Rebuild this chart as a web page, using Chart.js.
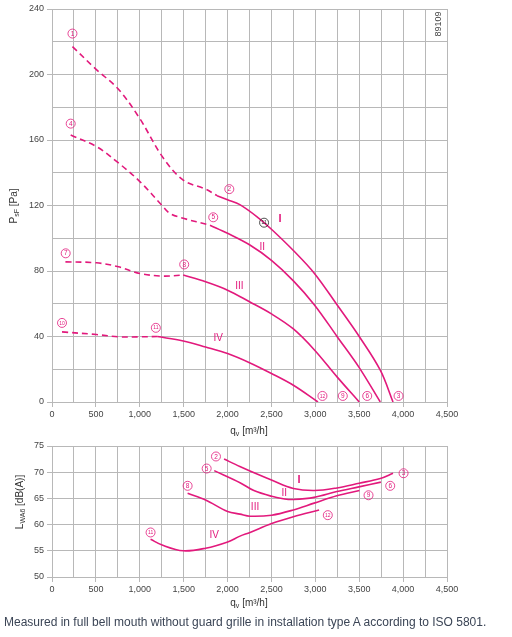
<!DOCTYPE html>
<html>
<head>
<meta charset="UTF-8" />
<script src="https://cdn.jsdelivr.net/npm/chart.js"></script>
<style>
  body, html { margin: 0; padding: 0; background: #fff; }
  #top { position: absolute; left: 0; top: 0; }
  #bottom { position: absolute; left: 0; top: 430px; }
  #note {
    position: absolute; left: 4px; top: 615px;
    font: 12px "Liberation Sans", Arial, sans-serif; line-height: 14px;
    color: #3b4556; white-space: nowrap;
  }
</style>
</head>
<body>
<canvas id="top" width="512" height="440"></canvas>
<canvas id="bottom" width="512" height="185"></canvas>
<div id="note">Measured in full bell mouth without guard grille in installation type A according to ISO 5801.</div>
<script>
// --- pressure curves, q_v [m³/h] vs p_sF [Pa] ---
const q1Dash = [233, 506, 757, 1001, 1255, 1495, 1750, 1880];
const p1Dash = [217, 203, 191, 173, 150, 135.5, 130, 126];
const qI = [1880, 2000, 2140, 2350, 2500, 2750, 2990, 3245, 3500, 3740, 3885];
const pI = [126, 123.5, 120.5, 112.5, 105.5, 92.5, 78.5, 59.5, 40, 19.4, 0];

const q4Dash = [213, 506, 757, 1001, 1255, 1343, 1495, 1800];
const p4Dash = [163, 156, 146, 134.6, 120, 115.2, 112.2, 108];
const qII = [1800, 2000, 2250, 2500, 2750, 2990, 3245, 3500, 3740];
const pII = [108, 103, 96, 86.5, 74, 59.3, 40.2, 21, 0];

const q7Dash = [153, 506, 757, 1001, 1255, 1495];
const p7Dash = [85.6, 85, 82.6, 78.5, 76.9, 77.5];
const qIII = [1495, 1750, 2000, 2250, 2500, 2750, 2990, 3245, 3500];
const pIII = [77.5, 73.4, 68.3, 61.2, 53.8, 44.6, 31.8, 15.5, 0];

const q10Dash = [114, 506, 757, 1001, 1200];
const p10Dash = [42.8, 41.2, 39.8, 39.8, 40];
const qIV = [1200, 1495, 1750, 2000, 2250, 2500, 2750, 3030];
const pIV = [40, 37.3, 33.6, 29.6, 24, 17.4, 10.2, 0];

// --- sound power level, q_v [m³/h] vs L_WA6 [dB(A)] ---
const qLI = [1960, 2140, 2370, 2500, 2750, 2990, 3245, 3500, 3740, 3885];
const lI = [72.5, 71.1, 69.4, 68.5, 66.9, 66.5, 67.0, 67.9, 68.8, 69.8];
const qLII = [1848, 2142, 2300, 2503, 2650, 2750, 2986, 3245, 3496, 3747];
const lII = [70.3, 68.0, 66.5, 65.4, 64.9, 64.8, 65.2, 66.3, 67.2, 68.1];
const qLIII = [1545, 1750, 2001, 2142, 2256, 2503, 2750, 2986, 3245, 3503];
const lIII = [66, 64.7, 62.5, 62.0, 61.6, 61.8, 62.8, 64.1, 65.5, 66.5];
const qLIV = [1123, 1255, 1495, 1750, 2001, 2142, 2256, 2503, 2750, 3043];
const lIV = [57.2, 56.1, 55.0, 55.5, 56.7, 57.8, 58.5, 60.2, 61.5, 62.8];

// operating point markers (number, q, value)
const topMarks = [
  ['1', 233, 225], ['4', 213, 170], ['2', 2020, 130], ['5', 1837, 112.8],
  ['7', 156, 90.8], ['8', 1506, 84], ['10', 114, 48.3], ['11', 1183, 45.3],
  ['12', 3081, 3.7], ['9', 3313, 3.7], ['6', 3591, 3.7], ['3', 3948, 3.7]
];
const topBlackMark = ['11', 2416, 109.5];
const topRoman = [['I', 2598, 111.7], ['II', 2396, 94.8], ['III', 2134, 70.8], ['IV', 1894, 39.1]];
const lowMarks = [
  ['2', 1868, 73], ['5', 1762, 70.7], ['8', 1545, 67.4], ['11', 1123, 58.5],
  ['3', 4005, 69.8], ['6', 3853, 67.4], ['9', 3606, 65.6], ['12', 3142, 61.8]
];
const lowRoman = [['I', 2815, 68.5], ['II', 2647, 66.0], ['III', 2313, 63.3], ['IV', 1848, 57.9]];

const PINK = '#e2197c';
const GRID = '#b8b8b8';
const FONT = '"Liberation Sans", Arial, sans-serif';

const pts = (xs, ys) => xs.map((x, i) => ({ x, y: ys[i] }));
const curve = (xs, ys, dashed) => ({
  data: pts(xs, ys),
  showLine: true,
  borderColor: PINK,
  borderWidth: 1.6,
  borderDash: dashed ? [6, 4] : [],
  pointRadius: 0,
  tension: 0.35,
  fill: false
});

// text with subscript parts, e.g. [['P'], ['sF', 'sub'], [' [Pa]']]
function drawRich(ctx, parts, cx, cy, rot) {
  ctx.save();
  ctx.translate(cx, cy);
  if (rot) ctx.rotate(rot);
  const big = '10px ' + FONT, small = '7px ' + FONT;
  let w = 0;
  parts.forEach(p => { ctx.font = p[1] ? small : big; w += ctx.measureText(p[0]).width; });
  let x = -w / 2;
  ctx.fillStyle = '#333';
  ctx.textBaseline = 'middle';
  ctx.textAlign = 'left';
  parts.forEach(p => {
    ctx.font = p[1] ? small : big;
    ctx.fillText(p[0], x, p[1] === 'sub' ? 3 : 0);
    x += ctx.measureText(p[0]).width;
  });
  ctx.restore();
}

function circled(ctx, txt, px, py, color) {
  ctx.save();
  ctx.strokeStyle = color;
  ctx.fillStyle = color;
  ctx.lineWidth = 0.8;
  ctx.beginPath();
  ctx.arc(px, py, 4.5, 0, Math.PI * 2);
  ctx.stroke();
  ctx.font = (txt.length > 1 ? '5px ' : '6.5px ') + FONT;
  ctx.textAlign = 'center';
  ctx.textBaseline = 'middle';
  ctx.fillText(txt, px, py + 0.3);
  ctx.restore();
}

function labelsPlugin(marks, roman, extra) {
  return {
    id: 'curveLabels',
    afterDatasetsDraw(chart) {
      const { ctx, scales: { x, y } } = chart;
      marks.forEach(m => circled(ctx, m[0], x.getPixelForValue(m[1]), y.getPixelForValue(m[2]), PINK));
      ctx.save();
      ctx.fillStyle = PINK;
      ctx.textAlign = 'center';
      ctx.textBaseline = 'middle';
      roman.forEach(r => {
        ctx.font = (r[0] === 'I' ? 'bold 11px ' : '10px ') + FONT;
        ctx.fillText(r[0], x.getPixelForValue(r[1]), y.getPixelForValue(r[2]));
      });
      ctx.restore();
      if (extra) extra(chart);
    }
  };
}

function axes(yMin, yMax, yStep, yLabelEvery, leftW, xH) {
  return {
    x: {
      type: 'linear', min: 0, max: 4500,
      afterFit: s => { s.height = xH; },
      grid: {
        color: GRID, lineWidth: 1, tickLength: 5,
        tickColor: c => (c.tick && c.tick.value % 500 === 0 ? GRID : 'rgba(0,0,0,0)')
      },
      border: { color: GRID },
      ticks: {
        stepSize: 250, autoSkip: false, maxRotation: 0, padding: 2,
        color: '#444', font: { family: FONT, size: 9 },
        callback: v => (v % 500 === 0 ? v.toLocaleString('en-US') : '')
      }
    },
    y: {
      min: yMin, max: yMax,
      afterFit: s => { s.width = leftW; },
      grid: {
        color: GRID, lineWidth: 1, tickLength: 5,
        tickColor: c => (c.tick && c.tick.value % yLabelEvery === 0 ? GRID : 'rgba(0,0,0,0)')
      },
      border: { color: GRID },
      ticks: {
        stepSize: yStep, padding: 3,
        color: '#444', font: { family: FONT, size: 9 },
        callback: v => (v % yLabelEvery === 0 ? v : '')
      }
    }
  };
}

const baseOptions = {
  responsive: false,
  animation: false,
  events: [],
  plugins: { legend: { display: false }, tooltip: { enabled: false } }
};

new Chart(document.getElementById('top'), {
  type: 'scatter',
  data: {
    datasets: [
      curve(q1Dash, p1Dash, true), curve(qI, pI, false),
      curve(q4Dash, p4Dash, true), curve(qII, pII, false),
      curve(q7Dash, p7Dash, true), curve(qIII, pIII, false),
      curve(q10Dash, p10Dash, true), curve(qIV, pIV, false)
    ]
  },
  options: Object.assign({}, baseOptions, {
    layout: { padding: { top: 9, right: 65, left: 0, bottom: 0 } },
    scales: axes(0, 240, 20, 40, 52, 38)
  }),
  plugins: [labelsPlugin(topMarks, topRoman, chart => {
    const { ctx, scales: { x, y } } = chart;
    circled(ctx, topBlackMark[0], x.getPixelForValue(topBlackMark[1]), y.getPixelForValue(topBlackMark[2]), '#222');
    drawRich(ctx, [['P'], ['sF', 'sub'], [' [Pa]']], 14, 206, -Math.PI / 2);
    drawRich(ctx, [['q'], ['v', 'sub'], [' [m³/h]']], 249, 431, 0);
    ctx.save();
    ctx.translate(439, 24);
    ctx.rotate(-Math.PI / 2);
    ctx.font = '9px ' + FONT;
    ctx.fillStyle = '#444';
    ctx.textAlign = 'center';
    ctx.textBaseline = 'middle';
    ctx.fillText('89109', 0, 0);
    ctx.restore();
  })]
});

new Chart(document.getElementById('bottom'), {
  type: 'scatter',
  data: {
    datasets: [
      curve(qLI, lI, false), curve(qLII, lII, false),
      curve(qLIII, lIII, false), curve(qLIV, lIV, false)
    ]
  },
  options: Object.assign({}, baseOptions, {
    layout: { padding: { top: 16, right: 65, left: 0, bottom: 0 } },
    scales: axes(50, 75, 5, 5, 52, 38)
  }),
  plugins: [labelsPlugin(lowMarks, lowRoman, chart => {
    drawRich(chart.ctx, [['L'], ['WA6', 'sub'], [' [dB(A)]']], 20, 72, -Math.PI / 2);
    drawRich(chart.ctx, [['q'], ['v', 'sub'], [' [m³/h]']], 249, 173, 0);
  })]
});
</script>
</body>
</html>
